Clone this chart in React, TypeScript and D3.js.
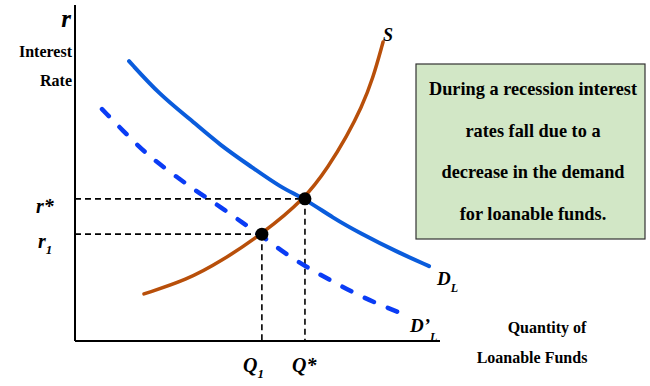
import React from "react";
import * as d3 from "d3";

// Data (quantity 0-100, interest rate 0-100 in chart units)
const demandQ = [14.8, 23.3, 31.5, 39.7, 48.8, 56.2, 63.0, 70.7, 78.1, 88.2, 97.0];
const demandR = [83.3, 73.2, 66.1, 58.3, 51.5, 45.8, 42.3, 36.6, 32.1, 26.5, 22.3];

const demand2Q = [7.4, 15.1, 20.5, 26.8, 33.2, 39.5, 46.0, 51.2, 58.1, 64.9, 71.8, 78.6, 85.8, 89.9];
const demand2R = [69.0, 60.4, 54.8, 49.7, 44.6, 40.2, 35.1, 31.3, 25.6, 21.1, 17.0, 13.1, 9.8, 8.0];

const supplyQ = [18.9, 30.7, 39.7, 51.2, 63.0, 69.5, 74.5, 78.5, 81.6, 84.4];
const supplyR = [14.0, 18.2, 23.5, 31.8, 42.3, 52.0, 61.0, 69.5, 78.0, 89.0];

const eqQ = [63.0, 51.2];
const eqR = [42.3, 31.8];

const boxLines = [
  "During a recession interest",
  "rates fall due to a",
  "decrease in the demand",
  "for loanable funds.",
];

const FONT = "'Liberation Serif', 'Times New Roman', serif";

export default function App() {
  const x = d3.scaleLinear().domain([0, 100]).range([75, 440]);
  const y = d3.scaleLinear().domain([0, 100]).range([341, 5]);

  const line = d3
    .line<[number, number]>()
    .x((d) => x(d[0]))
    .y((d) => y(d[1]))
    .curve(d3.curveBasis);

  const dPts = demandQ.map((q, i) => [q, demandR[i]] as [number, number]);
  const d2Pts = demand2Q.map((q, i) => [q, demand2R[i]] as [number, number]);
  const sPts = supplyQ.map((q, i) => [q, supplyR[i]] as [number, number]);

  return (
    <svg
      width={650}
      height={386}
      style={{ position: "absolute", left: 0, top: 0, background: "#fff" }}
      fontFamily={FONT}
    >
      {/* axes */}
      <line x1={x(0)} y1={y(100)} x2={x(0)} y2={y(0)} stroke="#000" strokeWidth={2} />
      <line x1={x(0)} y1={y(0)} x2={x(100)} y2={y(0)} stroke="#000" strokeWidth={2} />

      {/* guide lines */}
      {eqQ.map((q, i) => (
        <g key={i}>
          <line
            x1={x(0)}
            y1={y(eqR[i])}
            x2={x(q)}
            y2={y(eqR[i])}
            stroke="#000"
            strokeWidth={1.6}
            strokeDasharray="6 4"
          />
          <line
            x1={x(q)}
            y1={y(eqR[i])}
            x2={x(q)}
            y2={y(0)}
            stroke="#000"
            strokeWidth={1.6}
            strokeDasharray="6 4"
          />
        </g>
      ))}

      {/* curves */}
      <path
        d={line(d2Pts) || ""}
        fill="none"
        stroke="#0a3cf5"
        strokeWidth={4.5}
        strokeLinecap="round"
        strokeDasharray="10 15"
      />
      <path d={line(dPts) || ""} fill="none" stroke="#0a5cdc" strokeWidth={4} strokeLinecap="round" />
      <path d={line(sPts) || ""} fill="none" stroke="#b84f0a" strokeWidth={3.5} strokeLinecap="round" />

      {/* points */}
      {eqQ.map((q, i) => (
        <circle key={i} cx={x(q)} cy={y(eqR[i])} r={6.5} fill="#000" />
      ))}

      {/* y-axis labels */}
      <text x={71} y={27} fontSize={25} fontWeight="bold" fontStyle="italic" textAnchor="end">r</text>
      <text x={72} y={57} fontSize={16} fontWeight="bold" textAnchor="end">Interest</text>
      <text x={72} y={86} fontSize={16} fontWeight="bold" textAnchor="end">Rate</text>
      <text x={36} y={213} fontSize={20} fontWeight="bold" fontStyle="italic">r*</text>
      <text x={38} y={248} fontSize={20} fontWeight="bold" fontStyle="italic">
        r<tspan fontSize={13} dy={6}>1</tspan>
      </text>

      {/* x-axis labels */}
      <text x={243} y={372} fontSize={20} fontWeight="bold" fontStyle="italic">
        Q<tspan fontSize={13} dy={6}>1</tspan>
      </text>
      <text x={292} y={372} fontSize={20} fontWeight="bold" fontStyle="italic">Q*</text>
      <text x={547} y={333} fontSize={16} fontWeight="bold" textAnchor="middle">Quantity of</text>
      <text x={532} y={363} fontSize={16} fontWeight="bold" textAnchor="middle">Loanable Funds</text>

      {/* curve labels */}
      <text x={383} y={41} fontSize={18} fontWeight="bold" fontStyle="italic">S</text>
      <text x={437} y={285} fontSize={19} fontWeight="bold" fontStyle="italic">
        D<tspan fontSize={12} dy={7}>L</tspan>
      </text>
      <text x={410} y={332} fontSize={19} fontWeight="bold" fontStyle="italic">
        D’<tspan fontSize={12} dy={9}>L</tspan>
      </text>

      {/* annotation box */}
      <rect x={416} y={64} width={229} height={175} fill="#d2e7c6" stroke="#333" strokeWidth={1.2} />
      {boxLines.map((t, i) => (
        <text
          key={i}
          x={533}
          y={95 + i * 41.7}
          fontSize={18.3}
          fontWeight="bold"
          textAnchor="middle"
        >
          {t}
        </text>
      ))}
    </svg>
  );
}
